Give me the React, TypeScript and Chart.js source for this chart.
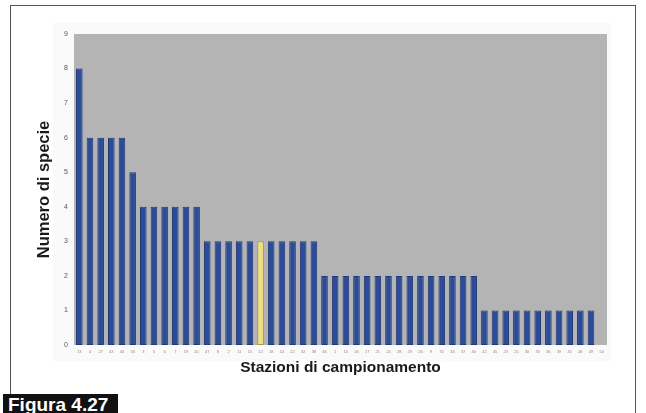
import React, { useEffect, useRef } from "react";
import { Chart, registerables } from "chart.js";

Chart.register(...registerables);

const stations: string[] = [
  "13", "4", "27", "43", "44", "33", "3", "5", "6", "7",
  "19", "20", "47", "8", "2", "11", "15", "12", "18", "14",
  "22", "32", "38", "46", "1", "10", "16", "17", "21", "24",
  "28", "29", "26", "9", "31", "34", "37", "40", "42", "45",
  "23", "25", "30", "35", "36", "39", "41", "48", "49", "50",
];

const speciesCount: (number | null)[] = [
  8, 6, 6, 6, 6, 5, 4, 4, 4, 4,
  4, 4, 3, 3, 3, 3, 3, 3, 3, 3,
  3, 3, 3, 2, 2, 2, 2, 2, 2, 2,
  2, 2, 2, 2, 2, 2, 2, 2, 1, 1,
  1, 1, 1, 1, 1, 1, 1, 1, 1, null,
];

const highlightIndex = 17;
const yTicks: number[] = [0, 1, 2, 3, 4, 5, 6, 7, 8, 9];

const plotBg = {
  id: "plotBg",
  beforeDraw(chart: any) {
    const { ctx, chartArea } = chart;
    ctx.save();
    ctx.fillStyle = "#b4b4b4";
    ctx.fillRect(chartArea.left, chartArea.top, chartArea.right - chartArea.left, chartArea.bottom - chartArea.top);
    ctx.restore();
  },
};

export default function App() {
  const ref = useRef<HTMLCanvasElement | null>(null);

  useEffect(() => {
    document.body.style.margin = "0";
    if (!ref.current) return;
    const blue = "#2c4c98";
    const yellow = "#f2df7e";
    const chart = new Chart(ref.current, {
      type: "bar",
      data: {
        labels: stations,
        datasets: [
          {
            data: speciesCount,
            backgroundColor: speciesCount.map((_, i) => (i === highlightIndex ? yellow : blue)),
            borderColor: speciesCount.map((_, i) => (i === highlightIndex ? "#a89a40" : "#213a78")),
            borderWidth: 1,
            borderSkipped: false,
            categoryPercentage: 1,
            barPercentage: 0.62,
          },
        ],
      },
      options: {
        animation: false,
        responsive: false,
        maintainAspectRatio: false,
        layout: { padding: { left: 10, top: 34, right: 39, bottom: 30 } },
        plugins: { legend: { display: false }, tooltip: { enabled: false } },
        scales: {
          x: {
            grid: { display: false, drawTicks: false },
            border: { display: false },
            ticks: {
              autoSkip: false,
              maxRotation: 0,
              minRotation: 0,
              color: "#8a8a8a",
              font: { size: 4, family: "Liberation Sans" },
              padding: 4,
            },
            title: {
              display: true,
              text: "Stazioni di campionamento",
              color: "#1a1a1a",
              font: { size: 15.5, weight: "bold", family: "Liberation Sans" },
              padding: { top: 0, bottom: 6 },
            },
            afterFit(scale: any) {
              scale.height = 38;
            },
          },
          y: {
            min: 0,
            max: 9,
            grid: { display: false, drawTicks: false },
            border: { display: false },
            afterBuildTicks(scale: any) {
              scale.ticks = yTicks.map((v) => ({ value: v }));
            },
            ticks: {
              color: "#555555",
              font: { size: 7, family: "Liberation Sans" },
              padding: 6,
            },
            title: {
              display: true,
              text: "Numero di specie",
              color: "#1a1a1a",
              font: { size: 16.5, weight: "bold", family: "Liberation Sans" },
              padding: { top: 25, bottom: 0 },
            },
            afterFit(scale: any) {
              scale.width = 64;
            },
          },
        },
      },
      plugins: [plotBg],
    });
    return () => chart.destroy();
  }, []);

  return (
    <div style={{ position: "fixed", left: 0, top: 0, width: 646, height: 413, background: "#ffffff", overflow: "hidden" }}>
      <div
        style={{
          position: "absolute",
          left: 10,
          top: 5,
          width: 626,
          height: 420,
          borderTop: "1.5px solid #555",
          borderLeft: "1.5px solid #555",
          borderRight: "1.5px solid #555",
          boxSizing: "border-box",
        }}
      />
      <div
        style={{
          position: "absolute",
          left: 53,
          top: 23,
          width: 558,
          height: 338,
          background: "#fafafa",
        }}
      />
      <canvas ref={ref} width={646} height={413} style={{ position: "absolute", left: 0, top: 0 }} />
      <div
        style={{
          position: "absolute",
          left: 3,
          top: 394,
          width: 115,
          height: 21,
          background: "#111",
          color: "#fff",
          fontFamily: "'Liberation Sans Narrow', 'Liberation Sans', Arial, sans-serif",
          fontSize: 19,
          fontWeight: "bold",
          lineHeight: "21px",
          paddingLeft: 5,
          boxSizing: "border-box",
          whiteSpace: "nowrap",
        }}
      >
        Figura 4.27
      </div>
    </div>
  );
}
